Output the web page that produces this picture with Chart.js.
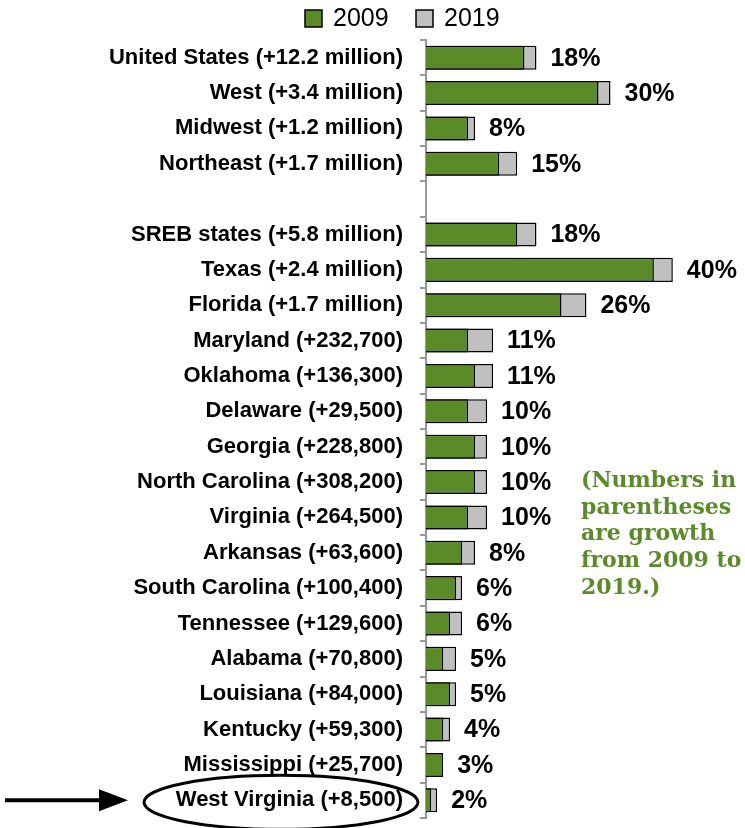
<!DOCTYPE html>
<html>
<head>
<meta charset="utf-8">
<script src="https://cdn.jsdelivr.net/npm/chart.js@4/dist/chart.umd.min.js"></script>
<style>
  body { margin: 0; background: #fff; }
  #wrap { width: 745px; height: 828px; position: relative; }
</style>
</head>
<body>
<div id="wrap"><canvas id="chart"></canvas></div>
<script>
// data (bar lengths in relative units, 0-100 scale)
const categories = [
  'United States (+12.2 million)', 'West (+3.4 million)', 'Midwest (+1.2 million)', 'Northeast (+1.7 million)',
  '',
  'SREB states (+5.8 million)', 'Texas (+2.4 million)', 'Florida (+1.7 million)', 'Maryland (+232,700)',
  'Oklahoma (+136,300)', 'Delaware (+29,500)', 'Georgia (+228,800)', 'North Carolina (+308,200)',
  'Virginia (+264,500)', 'Arkansas (+63,600)', 'South Carolina (+100,400)', 'Tennessee (+129,600)',
  'Alabama (+70,800)', 'Louisiana (+84,000)', 'Kentucky (+59,300)', 'Mississippi (+25,700)',
  'West Virginia (+8,500)'
];
const values2009 = [32.7, 57.3, 14, 24.3, null, 30.3, 75.7, 45, 14, 16.3, 14, 16.3, 16.3, 14, 12, 10, 8, 5.7, 8, 5.7, 5.7, 1.7];
const values2019 = [36.7, 61.3, 16.3, 30.3, null, 36.7, 82, 53.3, 22.3, 22.3, 20.3, 20.3, 20.3, 20.3, 16.3, 12, 12, 10, 10, 8, 5.7, 3.7];
const growthLabels = ['18%', '30%', '8%', '15%', '', '18%', '40%', '26%', '11%', '11%', '10%', '10%', '10%', '10%', '8%', '6%', '6%', '5%', '5%', '4%', '3%', '2%'];
const seriesNames = ['2009', '2019'];
const noteLines = ['(Numbers in', 'parentheses', 'are growth', 'from 2009 to', '2019.)'];

const GREEN = '#5b8a29';
const GREY = '#c0c0c0';

// legend, growth labels, note and the circled West Virginia row
const extras = {
  id: 'extras',
  afterDraw(chart) {
    const ctx = chart.ctx;
    const y = chart.scales.y;
    ctx.save();

    // legend
    const boxes = [{ x: 305, fill: GREEN }, { x: 416, fill: GREY }];
    ctx.font = '25px "Liberation Sans", Arial, sans-serif';
    ctx.textBaseline = 'middle';
    ctx.textAlign = 'left';
    boxes.forEach((b, i) => {
      ctx.fillStyle = b.fill;
      ctx.fillRect(b.x, 10, 17, 17);
      ctx.lineWidth = 1.5;
      ctx.strokeStyle = '#000';
      ctx.strokeRect(b.x, 10, 17, 17);
      ctx.fillStyle = '#000';
      ctx.fillText(seriesNames[i], b.x + 28, 19);
    });

    // growth % labels
    const m0 = chart.getDatasetMeta(0);
    const m1 = chart.getDatasetMeta(1);
    ctx.font = 'bold 25px "Liberation Sans", Arial, sans-serif';
    growthLabels.forEach((t, i) => {
      if (!t) return;
      const end = Math.max(m0.data[i].x, m1.data[i].x);
      ctx.fillText(t, end + 14, m0.data[i].y + 1);
    });

    // note
    ctx.fillStyle = GREEN;
    ctx.font = 'bold 22px "DejaVu Serif", Georgia, serif';
    noteLines.forEach((t, i) => ctx.fillText(t, 581, 481 + i * 26.8));

    // ellipse + arrow at West Virginia
    const wy = y.getPixelForValue(categories.length - 1);
    ctx.strokeStyle = '#000';
    ctx.lineWidth = 3;
    ctx.beginPath();
    ctx.ellipse(281, wy + 2, 137, 27, 0, 0, Math.PI * 2);
    ctx.stroke();
    ctx.lineWidth = 4;
    ctx.beginPath();
    ctx.moveTo(5, wy);
    ctx.lineTo(102, wy);
    ctx.stroke();
    ctx.fillStyle = '#000';
    ctx.beginPath();
    ctx.moveTo(128, wy);
    ctx.lineTo(99, wy - 11);
    ctx.lineTo(99, wy + 11);
    ctx.closePath();
    ctx.fill();
    ctx.restore();
  }
};

new Chart(document.getElementById('chart'), {
  type: 'bar',
  data: {
    labels: categories,
    datasets: [
      { label: seriesNames[0], data: values2009, backgroundColor: GREEN },
      { label: seriesNames[1], data: values2019, backgroundColor: GREY }
    ]
  },
  options: {
    indexAxis: 'y',
    responsive: true,
    maintainAspectRatio: false,
    animation: false,
    layout: { padding: { left: 81, right: 18, top: 40, bottom: 10 } },
    datasets: {
      bar: {
        grouped: false,
        barPercentage: 0.68,
        categoryPercentage: 1,
        borderColor: '#000',
        borderWidth: 1.5
      }
    },
    scales: {
      x: { min: 0, max: 100, display: false },
      y: {
        afterFit(scale) {
          scale.width = 345;
          scale.paddingTop = 0;
          scale.paddingBottom = 0;
        },
        grid: { offset: true, drawOnChartArea: false, color: '#999', tickLength: 6, lineWidth: 2 },
        border: { color: '#999', width: 2 },
        ticks: {
          color: '#000',
          padding: 17,
          autoSkip: false,
          font: { family: '"Liberation Sans", Arial, sans-serif', weight: 'bold', size: 22 }
        }
      }
    },
    plugins: {
      legend: { display: false },
      tooltip: { enabled: false }
    }
  },
  plugins: [extras]
});
</script>
</body>
</html>
